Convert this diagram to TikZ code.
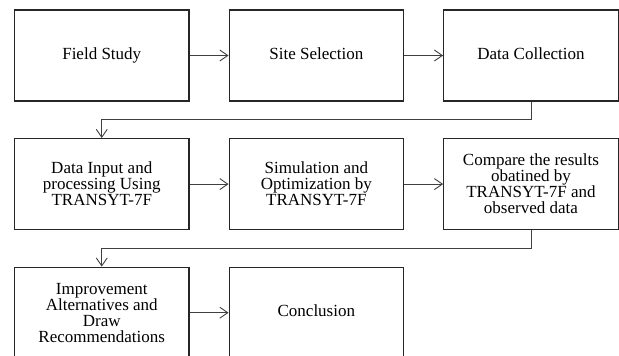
\documentclass[tikz,border=0pt]{standalone}
\usepackage{fontspec}
\setmainfont{Liberation Serif}
\usepackage{tikz}
\usetikzlibrary{arrows.meta,positioning}

\begin{document}
\begin{tikzpicture}[
  x=1pt, y=1pt,
  node distance=36.5pt and 39pt,
  stage/.style={rectangle, draw=black!85, line width=1.1pt, minimum width=174.5pt, minimum height=91pt,
    inner sep=2pt, align=center, font=\fontsize{17}{16}\selectfont},
  oneline/.style={stage, text height=11.5pt, text depth=3.5pt},
  flow/.style={draw=black!75, line width=0.9pt, -{Straight Barb[length=8pt,width=11pt]}}
]
\useasboundingbox (0,0) rectangle (619,-356);

% first row
\node[oneline] (field) at (101.75,-55.5) {Field Study};
\node[oneline, right=of field] (site) {Site Selection};
\node[oneline, right=of site] (collect) {Data Collection};

% second row
\node[stage, below=of field] (input) {Data Input and\\processing Using\\TRANSYT-7F};
\node[stage, right=of input] (simul) {Simulation and\\Optimization by\\TRANSYT-7F};
\node[stage, right=of simul] (compare) {Compare the results\\obatined by\\TRANSYT-7F and\\observed data};

% third row
\node[stage, below=of input] (improve) {Improvement\\Alternatives and\\Draw\\Recommendations};
\node[oneline, right=of improve] (concl) {Conclusion};

\draw[flow] (field) -- (site);
\draw[flow] (site) -- (collect);
\draw[flow] (collect.south) -- ++(0,-18) -| (input.north);
\draw[flow] (input) -- (simul);
\draw[flow] (simul) -- (compare);
\draw[flow] (compare.south) -- ++(0,-18) -| (improve.north);
\draw[flow] (improve) -- (concl);
\end{tikzpicture}
\end{document}
